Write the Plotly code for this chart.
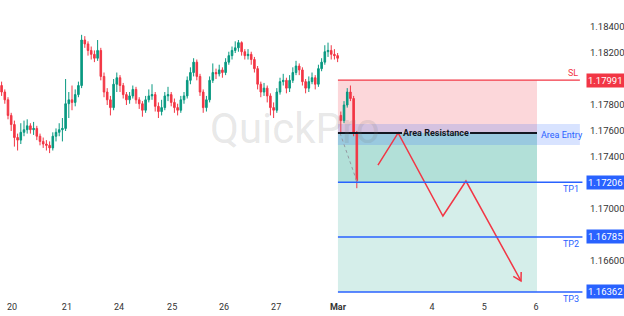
import plotly.graph_objects as go
import math

# ---------------- data ----------------
closes_hist = [1.1790, 1.1784, 1.1772, 1.1765, 1.1755, 1.1753, 1.1759, 1.1761, 1.1764, 1.1761,
               1.1762, 1.1756, 1.1752, 1.1750, 1.1749, 1.1747, 1.1756, 1.1759, 1.1761, 1.1762,
               1.1781, 1.1784, 1.1782, 1.1788, 1.1795, 1.1830, 1.1827, 1.1822, 1.1819, 1.1816,
               1.1822, 1.1802, 1.1790, 1.1784, 1.1778, 1.1796, 1.1801, 1.1795, 1.1788, 1.1784,
               1.1787, 1.1792, 1.1784, 1.1781, 1.1776, 1.1784, 1.1787, 1.1788, 1.1779, 1.1775,
               1.1778, 1.1787, 1.1788, 1.1782, 1.1778, 1.1776, 1.1784, 1.1787, 1.1799, 1.1805,
               1.1813, 1.1802, 1.1790, 1.1778, 1.1784, 1.1799, 1.1805, 1.1804, 1.1807, 1.1805,
               1.1813, 1.1818, 1.1822, 1.1824, 1.1828, 1.1821, 1.1818, 1.1819, 1.1815, 1.1808,
               1.1796, 1.1790, 1.1793, 1.1787, 1.1778, 1.1776, 1.1790, 1.1798, 1.1799, 1.1793,
               1.1799, 1.1805, 1.1810, 1.1807, 1.1798, 1.1793, 1.1798, 1.1801, 1.1796, 1.1808,
               1.1813, 1.1821, 1.1822, 1.1819, 1.1818, 1.1816]
highs_hist = [1.1798, 1.1792, 1.1786, 1.1774, 1.1768, 1.1758, 1.1766, 1.1768, 1.1769, 1.1766,
              1.1767, 1.1764, 1.1758, 1.1755, 1.1753, 1.1752, 1.1759, 1.1762, 1.1766, 1.1770,
              1.1800, 1.1790, 1.1795, 1.1792, 1.1798, 1.1834, 1.1833, 1.1829, 1.1825, 1.1822,
              1.1830, 1.1824, 1.1805, 1.1793, 1.1787, 1.1800, 1.1805, 1.1803, 1.1797, 1.1790,
              1.1790, 1.1795, 1.1794, 1.1786, 1.1783, 1.1787, 1.1792, 1.1796, 1.1790, 1.1782,
              1.1784, 1.1790, 1.1794, 1.1790, 1.1785, 1.1781, 1.1787, 1.1790, 1.1802, 1.1809,
              1.1816, 1.1815, 1.1804, 1.1792, 1.1787, 1.1802, 1.1812, 1.1808, 1.1811, 1.1809,
              1.1816, 1.1821, 1.1825, 1.1829, 1.1830, 1.1829, 1.1823, 1.1823, 1.1821, 1.1817,
              1.1810, 1.1798, 1.1797, 1.1795, 1.1789, 1.1782, 1.1793, 1.1801, 1.1804, 1.1801,
              1.1803, 1.1809, 1.1814, 1.1812, 1.1809, 1.1800, 1.1802, 1.1805, 1.1803, 1.1811,
              1.1816, 1.1826, 1.1828, 1.1826, 1.1823, 1.1820]
lows_hist = [1.1787, 1.1781, 1.1769, 1.1760, 1.1748, 1.1745, 1.1750, 1.1756, 1.1758, 1.1758,
             1.1757, 1.1753, 1.1749, 1.1747, 1.1745, 1.1743, 1.1745, 1.1752, 1.1756, 1.1752,
             1.1760, 1.1770, 1.1776, 1.1779, 1.1786, 1.1793, 1.1824, 1.1818, 1.1815, 1.1813,
             1.1814, 1.1799, 1.1786, 1.1780, 1.1772, 1.1776, 1.1790, 1.1790, 1.1785, 1.1780,
             1.1781, 1.1785, 1.1781, 1.1777, 1.1771, 1.1774, 1.1782, 1.1784, 1.1775, 1.1770,
             1.1772, 1.1776, 1.1783, 1.1779, 1.1774, 1.1772, 1.1774, 1.1781, 1.1785, 1.1796,
             1.1802, 1.1799, 1.1787, 1.1774, 1.1775, 1.1782, 1.1797, 1.1800, 1.1802, 1.1801,
             1.1803, 1.1811, 1.1815, 1.1820, 1.1821, 1.1818, 1.1815, 1.1815, 1.1811, 1.1805,
             1.1792, 1.1786, 1.1787, 1.1782, 1.1772, 1.1770, 1.1774, 1.1788, 1.1795, 1.1789,
             1.1790, 1.1797, 1.1803, 1.1803, 1.1795, 1.1789, 1.1790, 1.1796, 1.1792, 1.1794,
             1.1806, 1.1811, 1.1817, 1.1815, 1.1815, 1.1813]
first_open = 1.1795

# candles after the gap (inside the trade box)
opens_new = [1.1772, 1.1768, 1.1780, 1.1790, 1.1785, 1.1758]
highs_new = [1.1775, 1.1783, 1.1793, 1.1795, 1.1787, 1.1760]
lows_new = [1.1758, 1.1766, 1.1778, 1.1783, 1.1756, 1.1716]
closes_new = [1.1768, 1.1780, 1.1790, 1.1785, 1.1758, 1.1722]

# time axis (bar index units)
tick_positions = [3.25, 20.4, 36.7, 53.3, 69.5, 85.8, 105.1, 134.5, 150.8, 167.0]
tick_labels = ["20", "21", "24", "25", "26", "27", "<b>Mar</b>", "4", "5", "6"]

# price axis ticks (ones hidden behind the price tags are omitted)
price_ticks = [1.166, 1.170, 1.174, 1.176, 1.178, 1.182, 1.184, 1.186]

# trade levels
SL = 1.17991
ENTRY = 1.17585
TP1 = 1.17206
TP2 = 1.16785
TP3 = 1.16362
AREA_TOP = 1.17654
AREA_BOT = 1.17492

# projected path (bar index, price)
proj_x = [117.6, 123.9, 137.9, 145.1, 162.3]
proj_y = [1.17338, 1.17585, 1.16946, 1.17215, 1.16446]

# ---------------- build ----------------
opens_hist = [first_open] + closes_hist[:-1]
x_hist = list(range(len(closes_hist)))
x_new = list(range(len(closes_hist), len(closes_hist) + len(closes_new)))

X0, X1 = -0.5, 182.3
Y0, Y1 = 1.16323, 1.18608
PX_W, PX_H = 585, 297
sx = (X1 - X0) / PX_W   # idx per px
sy = (Y1 - Y0) / PX_H   # price per px

BOX_L, BOX_R = 105.1, 167.3
LINE_R = 181.5
RED = "#f23645"
GREEN = "#089981"
BLUE = "#2962ff"

fig = go.Figure()

shapes = []
shapes.append(dict(type="rect", xref="x", yref="y", x0=BOX_L, x1=BOX_R, y0=TP3, y1=ENTRY,
                   fillcolor="rgba(8,153,129,0.17)", line_width=0, layer="below"))
shapes.append(dict(type="rect", xref="x", yref="y", x0=BOX_L, x1=BOX_R, y0=TP1, y1=ENTRY,
                   fillcolor="rgba(8,153,129,0.17)", line_width=0, layer="below"))
shapes.append(dict(type="rect", xref="x", yref="y", x0=BOX_L, x1=BOX_R, y0=ENTRY, y1=SL,
                   fillcolor="rgba(242,54,69,0.2)", line_width=0, layer="below"))
shapes.append(dict(type="rect", xref="x", yref="y", x0=BOX_L, x1=180.7, y0=AREA_BOT, y1=AREA_TOP,
                   fillcolor="rgba(41,98,255,0.18)", line_width=0, layer="below"))
shapes.append(dict(type="line", xref="x", yref="y", x0=BOX_L, x1=180.7, y0=SL, y1=SL,
                   line=dict(color=RED, width=1.2)))
for lv in (TP1, TP2, TP3):
    shapes.append(dict(type="line", xref="x", yref="y", x0=BOX_L, x1=LINE_R, y0=lv, y1=lv,
                       line=dict(color=BLUE, width=1.5)))
AR_X = 135.75
gap = 34 * sx
shapes.append(dict(type="line", xref="x", yref="y", x0=BOX_L, x1=AR_X - gap, y0=ENTRY, y1=ENTRY,
                   line=dict(color="#131722", width=2)))
shapes.append(dict(type="line", xref="x", yref="y", x0=AR_X + gap, x1=BOX_R, y0=ENTRY, y1=ENTRY,
                   line=dict(color="#131722", width=2)))

fig.add_trace(go.Candlestick(
    x=x_hist + x_new,
    open=opens_hist + opens_new,
    high=highs_hist + highs_new,
    low=lows_hist + lows_new,
    close=closes_hist + closes_new,
    increasing=dict(line=dict(color=GREEN, width=1), fillcolor=GREEN),
    decreasing=dict(line=dict(color=RED, width=1), fillcolor=RED),
    whiskerwidth=0, showlegend=False, hoverinfo="skip"))

fig.add_trace(go.Scatter(x=[105.75, 111.1], y=[ENTRY, TP1], mode="lines",
                         line=dict(color="#9598a1", width=1, dash="dot"),
                         showlegend=False, hoverinfo="skip"))

fig.add_trace(go.Scatter(x=proj_x, y=proj_y, mode="lines",
                         line=dict(color=RED, width=1.5),
                         showlegend=False, hoverinfo="skip"))
dxp = (proj_x[-1] - proj_x[-2]) / sx
dyp = (proj_y[-1] - proj_y[-2]) / sy
L = math.hypot(dxp, dyp)
ux, uy = dxp / L, dyp / L
head = 9
wing = []
for ang in (math.radians(30), math.radians(-30)):
    rx = ux * math.cos(ang) - uy * math.sin(ang)
    ry = ux * math.sin(ang) + uy * math.cos(ang)
    wing.append((proj_x[-1] - rx * head * sx, proj_y[-1] - ry * head * sy))
fig.add_trace(go.Scatter(x=[wing[0][0], proj_x[-1], wing[1][0]],
                         y=[wing[0][1], proj_y[-1], wing[1][1]], mode="lines",
                         line=dict(color=RED, width=1.5),
                         showlegend=False, hoverinfo="skip"))

ann = []
ann.append(dict(x=(295 * sx) + X0, y=Y1 - 128 * sy, xref="x", yref="y", text="QuickPro",
                showarrow=False, font=dict(family="Roboto", size=42, color="rgba(120,120,120,0.18)")))
ann.append(dict(x=AR_X, y=ENTRY, xref="x", yref="y", text="<b>Area Resistance</b>", showarrow=False,
                font=dict(family="Roboto", size=9, color="#131722")))
ann.append(dict(x=175.2, y=(AREA_TOP + AREA_BOT) / 2, xref="x", yref="y", text="Area Entry",
                showarrow=False, font=dict(family="Roboto", size=9, color=BLUE)))
ann.append(dict(x=178.6, y=SL, xref="x", yref="y", text="SL", showarrow=False, yshift=7,
                font=dict(family="Roboto", size=9, color=RED)))
for name, lv in (("TP1", TP1), ("TP2", TP2), ("TP3", TP3)):
    ann.append(dict(x=177.9, y=lv, xref="x", yref="y", text=name, showarrow=False, yshift=-7,
                    font=dict(family="Roboto", size=9, color=BLUE)))
for lv, col in ((SL, RED), (TP1, BLUE), (TP2, BLUE), (TP3, BLUE)):
    ann.append(dict(x=1, y=lv, xref="paper", yref="y", text=f"{lv:.5f}", showarrow=False,
                    xanchor="left", xshift=1, bgcolor=col, borderpad=1,
                    font=dict(family="Roboto", size=9.5, color="white")))

fig.update_layout(
    width=624, height=316,
    margin=dict(l=0, r=39, t=0, b=19),
    paper_bgcolor="white", plot_bgcolor="white",
    shapes=shapes, annotations=ann,
    showlegend=False,
    xaxis=dict(range=[X0, X1], rangeslider=dict(visible=False), showgrid=False, zeroline=False,
               tickmode="array", tickvals=tick_positions, ticktext=tick_labels,
               tickfont=dict(family="Roboto", size=9, color="#333"), ticks="", showline=False,
               ticklabelstandoff=3),
    yaxis=dict(range=[Y0, Y1], side="right", showgrid=False, zeroline=False,
               tickmode="array", tickvals=price_ticks,
               ticktext=[f"{v:.5f}" for v in price_ticks],
               tickfont=dict(family="Roboto", size=9.5, color="#333"), ticks="", showline=False,
               ticklabelstandoff=4),
)

fig.write_html("out.html")
